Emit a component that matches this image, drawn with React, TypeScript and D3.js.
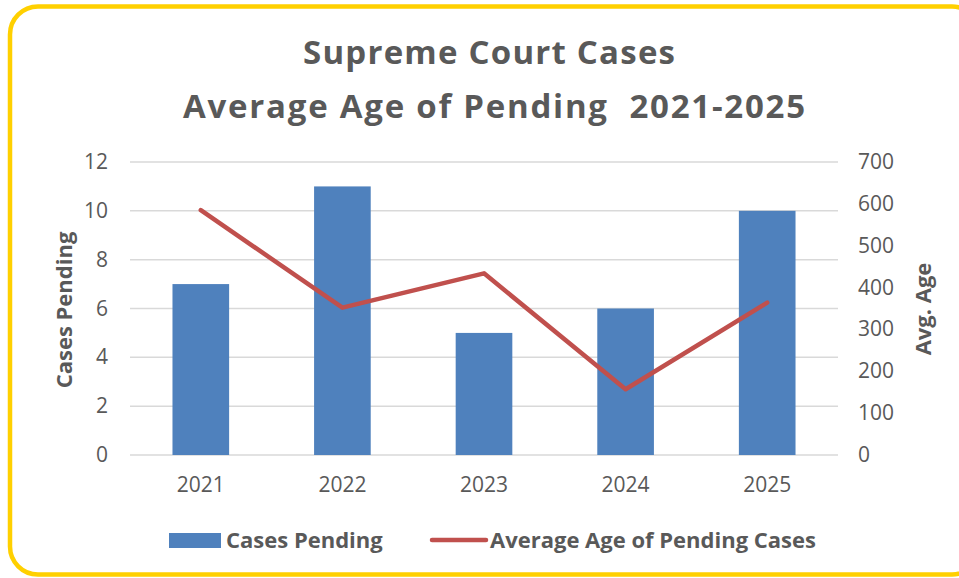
import React from "react";
import * as d3 from "d3";

const categories = ["2021", "2022", "2023", "2024", "2025"];
const casesPending = [7, 11, 5, 6, 10];
const avgAge = [585, 352, 434, 157, 364];
const leftTicks = [0, 2, 4, 6, 8, 10, 12];
const rightTicks = [0, 100, 200, 300, 400, 500, 600, 700];

const W = 959;
const H = 578;
const FONT = "'Open Sans', 'Noto Sans', sans-serif";
const TXT = "#595959";

export default function App() {
  const x = d3.scaleBand<string>().domain(categories).range([130, 838]).paddingInner(0.6).paddingOuter(0.3);
  const yL = d3.scaleLinear().domain([0, 12]).range([455, 162]);
  const yR = d3.scaleLinear().domain([0, 700]).range([455, 162]);
  const line = d3
    .line<number>()
    .x((_, i) => (x(categories[i]) as number) + x.bandwidth() / 2)
    .y((d) => yR(d));

  return (
    <svg width={W} height={H} style={{ position: "absolute", left: 0, top: 0 }}>
      <rect x={0} y={0} width={W} height={H} fill="#fff" />
      <rect x={10} y={6.5} width={970} height={568} rx={28} ry={28} fill="#fff" stroke="#FFD000" strokeWidth={4.5} />
      <text x={489} y={64} textAnchor="middle" fontFamily={FONT} fontWeight="bold" fontSize={33} fill={TXT} textLength={372} lengthAdjust="spacing">
        Supreme Court Cases
      </text>
      <text x={494} y={118} textAnchor="middle" fontFamily={FONT} fontWeight="bold" fontSize={33} fill={TXT} textLength={622} lengthAdjust="spacing" style={{ whiteSpace: "pre" }}>
        {"Average Age of Pending  2021-2025"}
      </text>
      {leftTicks.map((t) => (
        <line key={t} x1={130} x2={838} y1={yL(t)} y2={yL(t)} stroke="#D9D9D9" strokeWidth={1.5} />
      ))}
      {categories.map((c, i) => (
        <rect key={c} x={x(c)} y={yL(casesPending[i])} width={x.bandwidth()} height={455 - yL(casesPending[i])} fill="#4F81BD" />
      ))}
      <path d={line(avgAge) || ""} fill="none" stroke="#C0504D" strokeWidth={4.5} strokeLinecap="round" strokeLinejoin="round" />
      {leftTicks.map((t) => (
        <text key={t} x={108} y={yL(t) + 7} textAnchor="end" fontFamily={FONT} fontSize={21} fill={TXT}>
          {t}
        </text>
      ))}
      {rightTicks.map((t) => (
        <text key={t} x={858} y={yR(t) + 7} textAnchor="start" fontFamily={FONT} fontSize={21} fill={TXT}>
          {t}
        </text>
      ))}
      {categories.map((c) => (
        <text key={c} x={(x(c) as number) + x.bandwidth() / 2} y={492} textAnchor="middle" fontFamily={FONT} fontSize={21} fill={TXT}>
          {c}
        </text>
      ))}
      <text transform="translate(72,310) rotate(-90)" textAnchor="middle" fontFamily={FONT} fontWeight="bold" fontSize={22} fill={TXT}>
        Cases Pending
      </text>
      <text transform="translate(931,309) rotate(-90)" textAnchor="middle" fontFamily={FONT} fontWeight="bold" fontSize={22} fill={TXT}>
        Avg. Age
      </text>
      <rect x={169} y={533} width={52} height={15} fill="#4F81BD" />
      <text x={226} y={548} fontFamily={FONT} fontWeight="bold" fontSize={22} fill={TXT}>
        Cases Pending
      </text>
      <line x1={432} x2={486} y1={540} y2={540} stroke="#C0504D" strokeWidth={4.5} strokeLinecap="round" />
      <text x={490} y={548} fontFamily={FONT} fontWeight="bold" fontSize={22} fill={TXT}>
        Average Age of Pending Cases
      </text>
    </svg>
  );
}
